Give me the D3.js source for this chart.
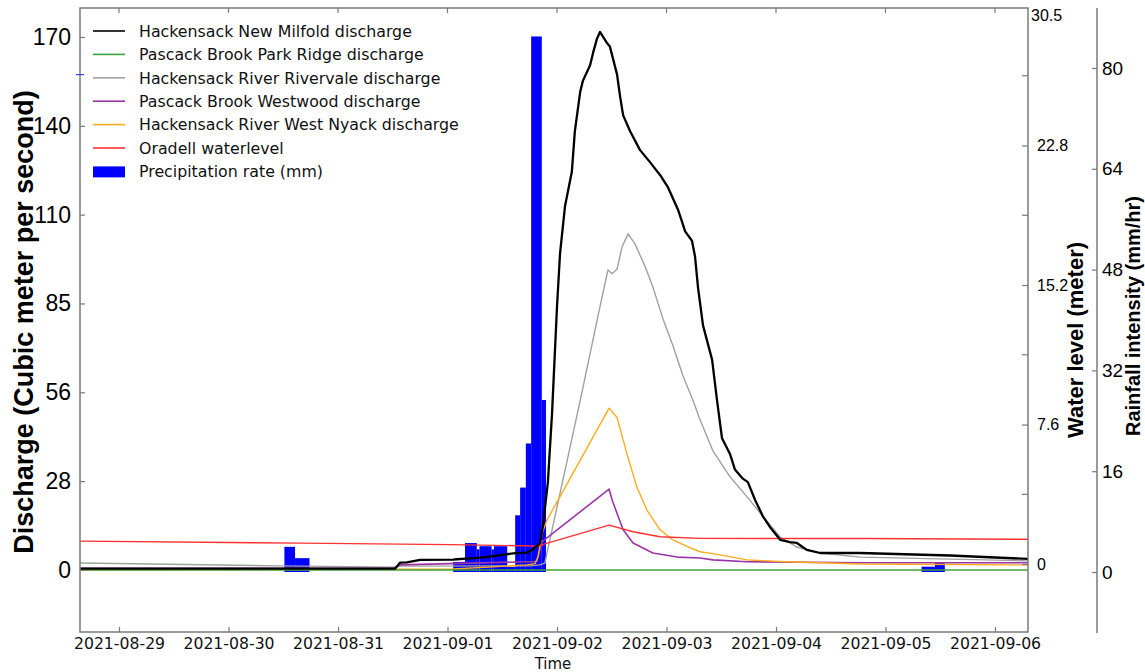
<!DOCTYPE html>
<meta charset="utf-8">
<style>
body { margin: 0; background: #fff; }
svg { display: block; }
.tick-q, .tick-w, .tick-r { font-family: "Liberation Sans", Arial, sans-serif; fill: #000; }
.tick-x, .legend text, .xlabel { font-family: "DejaVu Sans", sans-serif; fill: #111; }
.ylabel { font-family: "Liberation Sans", Arial, sans-serif; font-weight: bold; fill: #000; }
</style>
<svg width="1145" height="672"></svg>
<script src="https://d3js.org/d3.v7.min.js"></script>
<script>

var parse = d3.timeParse("%Y-%m-%d %H:%M");

// discharge series (m3/s)
var milford = [
  ["2021-08-28 15:27", 0.4], ["2021-08-31 12:30", 0.4], ["2021-08-31 13:35", 2.3],
  ["2021-08-31 15:05", 2.4], ["2021-08-31 18:00", 3.2], ["2021-09-01 01:15", 3.3],
  ["2021-09-01 02:05", 3.4], ["2021-09-01 04:55", 3.7], ["2021-09-01 07:45", 4.0],
  ["2021-09-01 12:10", 4.8], ["2021-09-01 14:20", 5.3], ["2021-09-01 17:25", 5.5],
  ["2021-09-01 18:45", 6.6], ["2021-09-01 20:15", 8.5], ["2021-09-01 20:55", 14],
  ["2021-09-01 22:00", 28], ["2021-09-01 22:55", 50], ["2021-09-02 00:00", 84],
  ["2021-09-02 00:40", 101], ["2021-09-02 01:45", 116], ["2021-09-02 03:15", 127],
  ["2021-09-02 03:55", 140], ["2021-09-02 05:05", 152.5], ["2021-09-02 05:40", 156],
  ["2021-09-02 07:15", 161], ["2021-09-02 07:55", 165], ["2021-09-02 08:45", 169.4],
  ["2021-09-02 09:25", 171.6], ["2021-09-02 11:00", 168], ["2021-09-02 11:35", 167],
  ["2021-09-02 13:10", 158], ["2021-09-02 13:50", 151], ["2021-09-02 14:30", 145],
  ["2021-09-02 16:00", 140], ["2021-09-02 18:10", 134], ["2021-09-02 20:25", 130],
  ["2021-09-02 22:35", 126], ["2021-09-03 00:20", 122], ["2021-09-03 01:25", 118.5],
  ["2021-09-03 02:30", 115], ["2021-09-03 03:25", 111], ["2021-09-03 04:05", 108],
  ["2021-09-03 05:35", 105], ["2021-09-03 06:15", 100], ["2021-09-03 06:55", 90],
  ["2021-09-03 08:00", 78], ["2021-09-03 10:00", 67], ["2021-09-03 11:05", 54],
  ["2021-09-03 12:10", 42], ["2021-09-03 13:55", 37], ["2021-09-03 15:00", 32],
  ["2021-09-03 16:35", 29.3], ["2021-09-03 17:50", 28], ["2021-09-03 19:25", 22.3],
  ["2021-09-03 21:10", 17], ["2021-09-03 22:40", 13.7], ["2021-09-04 00:55", 9.6],
  ["2021-09-04 03:05", 8.9], ["2021-09-04 04:35", 8.6], ["2021-09-04 06:45", 6.4],
  ["2021-09-04 09:40", 5.4], ["2021-09-04 18:25", 5.4], ["2021-09-05 14:10", 4.6],
  ["2021-09-06 07:14", 3.5]
];

var parkRidge = [["2021-08-28 15:27", 0], ["2021-09-06 07:14", 0]];

var rivervale = [
  ["2021-08-28 15:27", 2.2], ["2021-08-30 11:15", 1.3], ["2021-08-31 12:30", 0.9],
  ["2021-08-31 13:35", 1.2], ["2021-09-01 18:05", 1.3], ["2021-09-01 20:15", 1.6],
  ["2021-09-01 21:20", 2.2], ["2021-09-02 00:40", 24.5], ["2021-09-02 05:05", 54],
  ["2021-09-02 09:25", 84], ["2021-09-02 11:10", 95.7], ["2021-09-02 12:05", 94.5],
  ["2021-09-02 13:10", 96], ["2021-09-02 14:15", 103], ["2021-09-02 15:35", 107.2],
  ["2021-09-02 17:05", 104], ["2021-09-02 19:15", 97], ["2021-09-02 21:00", 90.3],
  ["2021-09-02 23:15", 80], ["2021-09-03 01:25", 71.5], ["2021-09-03 03:35", 62],
  ["2021-09-03 05:50", 54], ["2021-09-03 07:20", 48], ["2021-09-03 10:10", 38],
  ["2021-09-03 13:55", 29.7], ["2021-09-03 17:40", 23.3], ["2021-09-03 21:10", 17],
  ["2021-09-04 00:55", 10.5], ["2021-09-04 04:35", 7.3], ["2021-09-04 09:40", 5.4],
  ["2021-09-04 18:25", 4.1], ["2021-09-06 07:14", 2.9]
];

var westwood = [
  ["2021-08-28 15:27", 0.5], ["2021-08-31 12:05", 0.5], ["2021-08-31 13:35", 1.6],
  ["2021-09-01 19:35", 2.7], ["2021-09-01 20:45", 9], ["2021-09-02 11:25", 25.8],
  ["2021-09-02 12:05", 22.3], ["2021-09-02 13:10", 18], ["2021-09-02 14:30", 12.8],
  ["2021-09-02 16:40", 8.6], ["2021-09-02 21:00", 5.4], ["2021-09-03 02:20", 4.1],
  ["2021-09-03 07:20", 3.8], ["2021-09-03 10:10", 3.2], ["2021-09-03 17:40", 2.6],
  ["2021-09-04 18:25", 2.3], ["2021-09-06 07:14", 2.3]
];

var westNyack = [
  ["2021-08-28 15:27", 0.0], ["2021-09-01 01:15", 0.3], ["2021-09-01 17:25", 1.6],
  ["2021-09-01 19:10", 2.0], ["2021-09-01 19:50", 4.2], ["2021-09-01 20:45", 11.7],
  ["2021-09-01 21:50", 16], ["2021-09-02 11:25", 51.6], ["2021-09-02 13:10", 48.6],
  ["2021-09-02 15:20", 37], ["2021-09-02 17:30", 26.4], ["2021-09-02 19:45", 19],
  ["2021-09-02 22:35", 12.8], ["2021-09-03 01:25", 9.6], ["2021-09-03 04:30", 7.5],
  ["2021-09-03 07:20", 5.8], ["2021-09-03 10:10", 5.2], ["2021-09-03 17:40", 3.2],
  ["2021-09-04 00:55", 2.7], ["2021-09-04 18:25", 1.9], ["2021-09-06 07:14", 1.6]
];

// water level (m)
var oradell = [
  ["2021-08-28 15:27", 1.25], ["2021-08-30 15:40", 1.14], ["2021-09-01 00:35", 1.06],
  ["2021-09-01 20:15", 0.98], ["2021-09-01 21:20", 1.10], ["2021-09-02 11:25", 2.12],
  ["2021-09-02 16:40", 1.76], ["2021-09-02 22:35", 1.49], ["2021-09-03 07:20", 1.40],
  ["2021-09-04 18:25", 1.39], ["2021-09-06 07:14", 1.35]
];

// precipitation (mm/hr)
var precipStart = ["2021-08-30 12:15", "2021-08-30 14:35", "2021-09-01 01:15", "2021-09-01 03:50",
  "2021-09-01 06:25", "2021-09-01 07:00", "2021-09-01 09:40", "2021-09-01 10:10", "2021-09-01 13:05",
  "2021-09-01 14:50", "2021-09-01 15:55", "2021-09-01 17:10", "2021-09-01 18:20", "2021-09-01 20:40",
  "2021-09-05 07:55", "2021-09-05 10:50"];
var precipEnd = ["2021-08-30 14:35", "2021-08-30 17:45", "2021-09-01 03:50", "2021-09-01 06:25",
  "2021-09-01 07:00", "2021-09-01 09:40", "2021-09-01 10:10", "2021-09-01 13:05", "2021-09-01 14:50",
  "2021-09-01 15:55", "2021-09-01 17:10", "2021-09-01 18:20", "2021-09-01 20:40", "2021-09-01 21:35",
  "2021-09-05 10:50", "2021-09-05 13:00"];
var precipRate = [4.0, 2.2, 1.6, 4.6, 3.6, 4.1, 3.6, 4.1, 0.8, 9.0, 13.4, 20.4, 85, 27.3, 0.85, 1.5];

var timeDomain = ["2021-08-28 15:27", "2021-09-06 07:14"];
var dayTicks = ["2021-08-29", "2021-08-30", "2021-08-31", "2021-09-01", "2021-09-02",
  "2021-09-03", "2021-09-04", "2021-09-05", "2021-09-06"];

var qTickLabels = ["0", "28", "56", "85", "110", "140", "170"];
var wTicks = [0, 7.6, 15.2, 22.8];
var wMinor = [3.8, 11.4, 19, 26.6];
var rTicks = [0, 16, 32, 48, 64, 80];

var series = [
  {name: "Hackensack New Milfold discharge", data: milford, color: "#000", width: 2.3, axis: "q"},
  {name: "Pascack Brook Park Ridge discharge", data: parkRidge, color: "#3aa53a", width: 1.4, axis: "q"},
  {name: "Hackensack River Rivervale discharge", data: rivervale, color: "#a0a0a0", width: 1.4, axis: "q"},
  {name: "Pascack Brook Westwood discharge", data: westwood, color: "#9b35a6", width: 1.6, axis: "q"},
  {name: "Hackensack River West Nyack discharge", data: westNyack, color: "#ffab1a", width: 1.4, axis: "q"},
  {name: "Oradell waterlevel", data: oradell, color: "#ff3030", width: 1.4, axis: "w"}
];

var svg = d3.select("svg");
// plot box (note: "top" is taken by window.top, so use short names)
var pL = 80, pR = 1028, pT = 8, pB = 632, rainAxisX = 1097;

var x = d3.scaleTime().domain(timeDomain.map(parse)).range([pL, pR]);
var yQ = d3.scaleLinear().domain([-19.8, 179.25]).range([pB, pT]);
var yW = d3.scaleLinear().domain([-3.70, 30.29]).range([pB, pT]);
var yR = d3.scaleLinear().domain([-9.52, 89.52]).range([pB, pT]);

var spine = "#7a7a7a";

// precipitation bars first, lines go over them
svg.append("g").selectAll("rect")
  .data(precipRate)
  .join("rect")
  .attr("x", (d, i) => x(parse(precipStart[i])))
  .attr("width", (d, i) => x(parse(precipEnd[i])) - x(parse(precipStart[i])))
  .attr("y", d => yR(d))
  .attr("height", d => yR(0) - yR(d))
  .attr("fill", "#0000ff");

// draw order: light lines first, black on top
var drawOrder = [2, 3, 4, 1, 5, 0];
drawOrder.forEach(function(k) {
  var s = series[k];
  var yScale = s.axis == "w" ? yW : yQ;
  var line = d3.line()
    .x(d => x(parse(d[0])))
    .y(d => yScale(d[1]));
  svg.append("path")
    .datum(s.data)
    .attr("d", line)
    .attr("fill", "none")
    .attr("stroke", s.color)
    .attr("stroke-width", s.width)
    .attr("stroke-linejoin", "round");
});

// frame
svg.append("rect")
  .attr("x", pL).attr("y", pT)
  .attr("width", pR - pL).attr("height", pB - pT)
  .attr("fill", "none").attr("stroke", spine).attr("stroke-width", 1.5);

// x axis (ticks inward)
var xAxis = d3.axisBottom(x)
  .tickValues(dayTicks.map(d3.timeParse("%Y-%m-%d")))
  .tickFormat(d3.timeFormat("%Y-%m-%d"))
  .tickSizeInner(-5).tickSizeOuter(0).tickPadding(6);
var gx = svg.append("g").attr("transform", "translate(0," + pB + ")").call(xAxis);
gx.select(".domain").remove();
gx.selectAll("line").attr("stroke", spine).attr("stroke-width", 1.2);
gx.selectAll("text").attr("class", "tick-x").style("font-size", "15.7px").attr("fill", "#111");

// top ticks
svg.append("g").selectAll("line")
  .data(dayTicks.map(d3.timeParse("%Y-%m-%d")))
  .join("line")
  .attr("x1", d => x(d)).attr("x2", d => x(d))
  .attr("y1", pT).attr("y2", pT + 5)
  .attr("stroke", spine).attr("stroke-width", 1.2);

svg.append("text").attr("class", "xlabel")
  .attr("x", 553).attr("y", 669)
  .attr("text-anchor", "middle")
  .style("font-size", "15px")
  .text("Time");

// left discharge axis
var qTickValues = qTickLabels.map((d, i) => 170 * i / 6);
var qAxis = d3.axisLeft(yQ)
  .tickValues(qTickValues)
  .tickFormat((d, i) => qTickLabels[i])
  .tickSizeInner(-5).tickSizeOuter(0).tickPadding(9);
var gq = svg.append("g").attr("transform", "translate(" + pL + ",0)").call(qAxis);
gq.select(".domain").remove();
gq.selectAll("line").attr("stroke", spine).attr("stroke-width", 1.2);
gq.selectAll("text").attr("class", "tick-q").style("font-size", "23px").attr("fill", "#000");

// stray blue tick on the left spine
svg.append("line")
  .attr("x1", pL - 4).attr("x2", pL + 4)
  .attr("y1", yQ(158)).attr("y2", yQ(158))
  .attr("stroke", "#3344ff").attr("stroke-width", 1.2);

// water level axis on right spine
var wAxis = d3.axisRight(yW)
  .tickValues(wTicks)
  .tickFormat(d => d === 0 ? "0" : d3.format(".1f")(d))
  .tickSizeInner(-6).tickSizeOuter(0).tickPadding(9);
var gw = svg.append("g").attr("transform", "translate(" + pR + ",0)").call(wAxis);
gw.select(".domain").remove();
gw.selectAll("line").attr("stroke", spine).attr("stroke-width", 1.2);
gw.selectAll("text").attr("class", "tick-w").style("font-size", "16px").attr("fill", "#000");
svg.append("g").selectAll("line")
  .data(wMinor)
  .join("line")
  .attr("x1", pR - 6).attr("x2", pR)
  .attr("y1", d => yW(d)).attr("y2", d => yW(d))
  .attr("stroke", spine).attr("stroke-width", 1.2);
svg.append("text").attr("class", "tick-w")
  .attr("x", pR + 3).attr("y", pT + 8)
  .attr("dy", "0.32em")
  .style("font-size", "16px")
  .text("30.5");

// rainfall axis (offset spine)
var rAxis = d3.axisRight(yR)
  .tickValues(rTicks)
  .tickSizeInner(-5).tickSizeOuter(0).tickPadding(5);
var gr = svg.append("g").attr("transform", "translate(" + rainAxisX + ",0)").call(rAxis);
gr.select(".domain").remove();
gr.selectAll("line").attr("stroke", spine).attr("stroke-width", 1.2);
gr.selectAll("text").attr("class", "tick-r").style("font-size", "19px").attr("fill", "#000");
svg.append("line")
  .attr("x1", rainAxisX).attr("x2", rainAxisX)
  .attr("y1", pT).attr("y2", pB + 1)
  .attr("stroke", spine).attr("stroke-width", 1.5);

// axis titles
svg.append("text").attr("class", "ylabel")
  .attr("transform", "translate(33,322) rotate(-90)")
  .attr("text-anchor", "middle")
  .style("font-size", "27px")
  .text("Discharge (Cubic meter per second)");

svg.append("text").attr("class", "ylabel")
  .attr("transform", "translate(1083,340) rotate(-90)")
  .attr("text-anchor", "middle")
  .style("font-size", "22px")
  .text("Water level (meter)");

svg.append("text").attr("class", "ylabel")
  .attr("transform", "translate(1140,316) rotate(-90)")
  .attr("text-anchor", "middle")
  .style("font-size", "20px")
  .text("Rainfall intensity (mm/hr)");

// legend
var legendItems = series.map(s => ({name: s.name, color: s.color, type: "line"}))
  .concat([{name: "Precipitation rate (mm)", color: "#0000ff", type: "bar"}]);
var lg = svg.append("g").attr("class", "legend");
var row = lg.selectAll("g").data(legendItems).join("g")
  .attr("transform", (d, i) => "translate(93," + (31 + i * 23.4) + ")");
row.filter(d => d.type == "line").append("line")
  .attr("x1", 0).attr("x2", 32).attr("y1", 0).attr("y2", 0)
  .attr("stroke", d => d.color).attr("stroke-width", 1.6);
row.filter(d => d.type == "bar").append("rect")
  .attr("x", 0).attr("y", -5).attr("width", 32).attr("height", 11)
  .attr("fill", d => d.color);
row.append("text")
  .attr("x", 46).attr("dy", "0.36em")
  .style("font-size", "15.8px")
  .text(d => d.name);

</script>
